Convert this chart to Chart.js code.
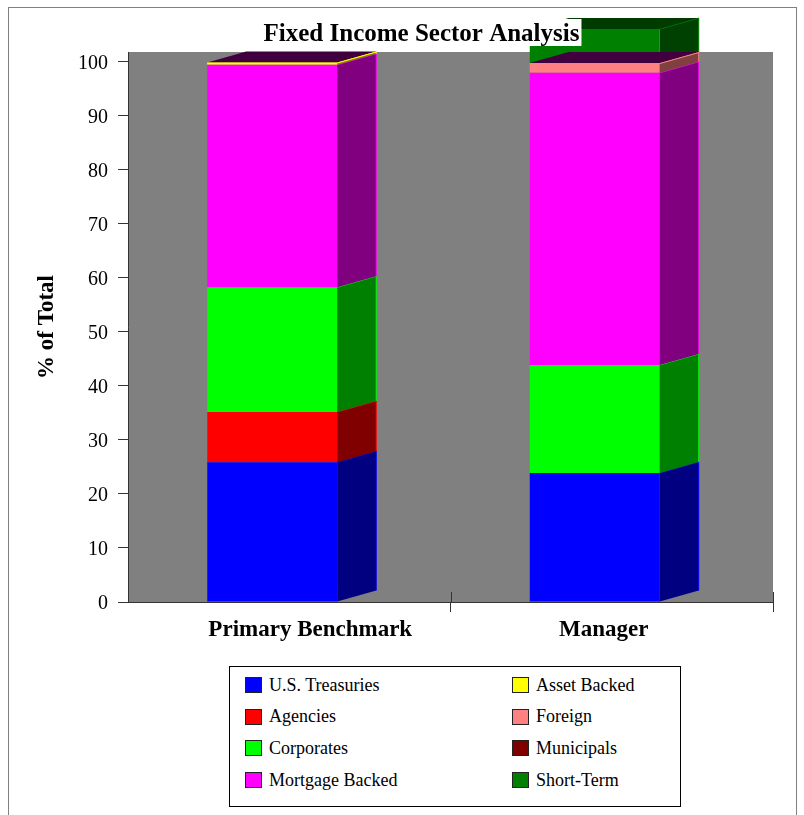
<!DOCTYPE html>
<html>
<head>
<meta charset="utf-8">
<script src="https://cdn.jsdelivr.net/npm/chart.js@4.4.1/dist/chart.umd.min.js"></script>
<style>
  html, body { margin: 0; padding: 0; background: #ffffff; overflow: hidden; }
  #frame { position: absolute; left: 8px; top: 7px; width: 787px; height: 900px; border: 1px solid #808080; }
  #wrap { position: absolute; left: 0; top: 0; width: 804px; height: 815px; }
  #legend { position: absolute; left: 229px; top: 666px; width: 452px; height: 141px; border: 1px solid #000;
            box-sizing: border-box; background: #fff;
            font-family: 'Liberation Serif', 'Times New Roman', serif; font-size: 18px; color: #000; }
  .item { position: absolute; height: 20px; display: flex; align-items: center; white-space: nowrap; }
  .sw { width: 17px; height: 16px; border: 1px solid #222; box-sizing: border-box; margin-right: 7px; }
</style>
</head>
<body>
<div id="frame"></div>
<div id="wrap"><canvas id="c" width="804" height="815"></canvas></div>
<div id="legend"></div>
<script>
// ---------------- DATA ----------------
const chartTitle = 'Fixed Income Sector Analysis';
const yAxisTitle = '% of Total';
const categories = ['Primary Benchmark', 'Manager'];
const seriesNames = ['U.S. Treasuries', 'Agencies', 'Corporates', 'Mortgage Backed',
                     'Asset Backed', 'Foreign', 'Municipals', 'Short-Term'];
const treasuries     = [25.9, 23.9];
const agencies       = [9.3, 0];
const corporates     = [23.1, 20.0];
const mortgageBacked = [41.2, 54.1];
const assetBacked    = [0.4, 0];
const foreign        = [0, 1.8];
const municipals     = [0, 0];
const shortTerm      = [0, 6.3];
const yTicks = [0, 10, 20, 30, 40, 50, 60, 70, 80, 90, 100];

// ---------------- STYLE ----------------
const FONT = "'Liberation Serif', 'Times New Roman', serif";
const frontColors = ['#0000ff', '#ff0000', '#00ff00', '#ff00ff', '#ffff00', '#ff8080', '#800000', '#008000'];
const sideColors  = ['#000080', '#800000', '#008000', '#800080', '#808000', '#804040', '#400000', '#004000'];
const ownTopColors = [null, null, null, null, null, null, null, '#003c00']; // series drawn as detached block
const MAIN_TOP_COLOR = '#400040';
const DEPTH_X = 39, DEPTH_Y = 11, FRONT_SHIFT = 17;
const LABEL_NUDGE = [21, -8];
const Y_MAX = 101.85;

const seriesValues = [treasuries, agencies, corporates, mortgageBacked, assetBacked, foreign, municipals, shortTerm];

// ---------------- LEGEND (HTML) ----------------
(function buildLegend() {
  const lg = document.getElementById('legend');
  seriesNames.forEach((name, i) => {
    const col = Math.floor(i / 4), row = i % 4;
    const d = document.createElement('div');
    d.className = 'item';
    d.style.left = (15 + col * 267) + 'px';
    d.style.top = (8 + row * 31.7) + 'px';
    d.innerHTML = '<span class="sw" style="background:' + frontColors[i] + '"></span><span></span>';
    d.lastChild.textContent = name;
    lg.appendChild(d);
  });
})();

// ---------------- PLUGINS ----------------
const plotBackground = {
  id: 'plotBackground',
  beforeDraw(chart) {
    const { ctx, chartArea: a } = chart;
    ctx.save();
    ctx.fillStyle = '#808080';
    ctx.fillRect(a.left, a.top, a.right - a.left, a.bottom - a.top);
    ctx.restore();
  }
};

function poly(ctx, pts, fill) {
  ctx.beginPath();
  ctx.moveTo(pts[0][0], pts[0][1]);
  for (let k = 1; k < pts.length; k++) ctx.lineTo(pts[k][0], pts[k][1]);
  ctx.closePath();
  ctx.fillStyle = fill;
  ctx.fill();
}

const bars3d = {
  id: 'bars3d',
  afterDatasetsUpdate(chart) {
    chart.getSortedVisibleDatasetMetas().forEach(m => m.data.forEach(el => { el.x -= FRONT_SHIFT; }));
  },
  afterDatasetsDraw(chart) {
    const ctx = chart.ctx;
    ctx.save();
    ctx.lineWidth = 1;
    categories.forEach((c, i) => {
      let mainTop = null;
      const detached = [];
      chart.data.datasets.forEach((ds, d) => {
        const v = ds.data[i];
        if (!v) return;
        const el = chart.getDatasetMeta(d).data[i];
        const L = el.x - el.width / 2, R = el.x + el.width / 2, T = Math.min(el.y, el.base), B = Math.max(el.y, el.base);
        const seg = { d, L, R, T, B };
        poly(ctx, [[R, B], [R, T], [R + DEPTH_X, T - DEPTH_Y], [R + DEPTH_X, B - DEPTH_Y]], sideColors[d]);
        ctx.strokeStyle = frontColors[d];
        ctx.beginPath();
        ctx.moveTo(R, T); ctx.lineTo(R + DEPTH_X, T - DEPTH_Y); ctx.lineTo(R + DEPTH_X, B - DEPTH_Y);
        ctx.stroke();
        if (ownTopColors[d]) detached.push(seg); else mainTop = seg;
      });
      detached.forEach(s => {
        poly(ctx, [[s.L, s.T], [s.R, s.T], [s.R + DEPTH_X, s.T - DEPTH_Y], [s.L + DEPTH_X, s.T - DEPTH_Y]], ownTopColors[s.d]);
      });
      if (mainTop) {
        const s = mainTop;
        poly(ctx, [[s.L, s.T], [s.R, s.T], [s.R + DEPTH_X, s.T - DEPTH_Y], [s.L + DEPTH_X, s.T - DEPTH_Y]], MAIN_TOP_COLOR);
        ctx.strokeStyle = frontColors[s.d];
        ctx.beginPath();
        ctx.moveTo(s.L, s.T + 0.5); ctx.lineTo(s.R, s.T + 0.5); ctx.lineTo(s.R + DEPTH_X, s.T - DEPTH_Y + 0.5);
        ctx.stroke();
      }
    });
    ctx.restore();
  },
  afterDraw(chart) {
    const ctx = chart.ctx;
    const xs = chart.scales.x;
    const a = chart.chartArea;
    ctx.save();
    // category boundary tick marks rising above the axis
    ctx.strokeStyle = '#333';
    ctx.lineWidth = 1;
    categories.forEach((c, i) => {
      const px = Math.round((xs.getPixelForValue(i) + xs.getPixelForValue(i) + (i === 0 ? 0 : 0)) / 2 + (xs.width / categories.length) / 2) + 0.5;
      ctx.beginPath();
      ctx.moveTo(px, a.bottom - 10);
      ctx.lineTo(px, a.bottom);
      ctx.stroke();
    });
    // category labels
    ctx.fillStyle = '#000';
    ctx.font = 'bold 23px ' + FONT;
    ctx.textAlign = 'center';
    ctx.textBaseline = 'alphabetic';
    categories.forEach((c, i) => {
      ctx.fillText(c, xs.getPixelForValue(i) + LABEL_NUDGE[i], 636);
    });
    // title with white box
    ctx.font = 'bold 25px ' + FONT;
    const w = ctx.measureText(chartTitle).width;
    const cx = 421.5;
    ctx.fillStyle = '#fff';
    ctx.fillRect(cx - w / 2 - 3, 19, w + 5, 27);
    ctx.fillStyle = '#000';
    ctx.fillText(chartTitle, cx, 41);
    ctx.restore();
  }
};

// ---------------- CHART ----------------
const datasets = seriesNames.map((name, i) => ({
  label: name,
  data: seriesValues[i],
  backgroundColor: frontColors[i],
  borderWidth: 0,
  clip: false
}));

new Chart(document.getElementById('c'), {
  type: 'bar',
  data: { labels: categories, datasets },
  options: {
    responsive: false,
    animation: false,
    events: [],
    layout: { padding: { top: 52, right: 31, left: 0, bottom: 0 } },
    datasets: { bar: { barPercentage: 0.403, categoryPercentage: 1 } },
    plugins: { legend: { display: false }, title: { display: false }, tooltip: { enabled: false } },
    scales: {
      x: {
        stacked: true,
        offset: true,
        border: { color: '#333', width: 1 },
        grid: {
          offset: true, drawOnChartArea: false, tickLength: 10, lineWidth: 1,
          color: (c) => (c.index === 0 ? 'rgba(0,0,0,0)' : '#333')
        },
        ticks: { display: false },
        afterFit(s) { s.height = 213; }
      },
      y: {
        stacked: true,
        min: 0,
        max: Y_MAX,
        border: { color: '#333', width: 1 },
        grid: { drawOnChartArea: false, tickLength: 10, color: '#333', lineWidth: 1 },
        ticks: { color: '#000', padding: 10, labelOffset: 2, font: { family: FONT, size: 20 } },
        afterBuildTicks(s) { s.ticks = yTicks.map(v => ({ value: v })); },
        title: { display: true, text: yAxisTitle, color: '#000', font: { family: FONT, size: 23, weight: 'bold' }, padding: { top: 33, bottom: 0 } },
        afterFit(s) { s.width = 128; }
      }
    }
  },
  plugins: [plotBackground, bars3d]
});
</script>
</body>
</html>
